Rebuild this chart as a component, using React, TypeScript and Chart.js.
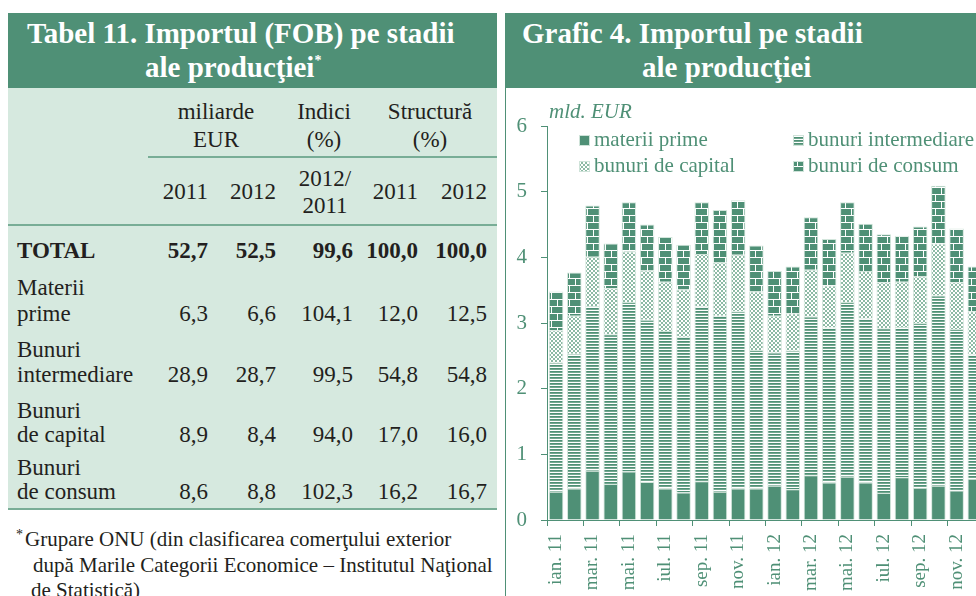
import React, { useEffect, useRef } from "react";
import { Chart, registerables } from "chart.js";

Chart.register(...registerables);

// ---------- DATA ----------
const months = [
  "ian. 11", "feb. 11", "mar. 11", "apr. 11", "mai. 11", "iun. 11",
  "iul. 11", "aug. 11", "sep. 11", "oct. 11", "nov. 11", "dec. 11",
  "ian. 12", "feb. 12", "mar. 12", "apr. 12", "mai. 12", "iun. 12",
  "iul. 12", "aug. 12", "sep. 12", "oct. 12", "nov. 12", "dec. 12",
];
const materiiPrime = [0.43, 0.48, 0.75, 0.55, 0.74, 0.58, 0.48, 0.42, 0.59, 0.43, 0.48, 0.48,
  0.52, 0.47, 0.68, 0.57, 0.66, 0.57, 0.41, 0.65, 0.49, 0.52, 0.45, 0.63];
const bunuriIntermediare = [1.97, 2.05, 2.51, 2.28, 2.58, 2.47, 2.40, 2.37, 2.66, 2.68, 2.70, 2.11,
  2.03, 2.11, 2.42, 2.36, 2.66, 2.50, 2.51, 2.29, 2.51, 2.90, 2.46, 1.89];
const bunuriCapital = [0.49, 0.58, 0.75, 0.70, 0.77, 0.75, 0.75, 0.72, 0.80, 0.81, 0.86, 0.89,
  0.56, 0.57, 0.71, 0.64, 0.75, 0.72, 0.70, 0.69, 0.71, 0.79, 0.71, 0.66];
const bunuriConsum = [0.59, 0.66, 0.78, 0.68, 0.75, 0.70, 0.68, 0.68, 0.79, 0.80, 0.83, 0.70,
  0.68, 0.71, 0.80, 0.71, 0.77, 0.72, 0.73, 0.70, 0.76, 0.88, 0.82, 0.68];
const seriesLabels = ["materii prime", "bunuri intermediare", "bunuri de capital", "bunuri de consum"];
const yTicks = [0, 1, 2, 3, 4, 5, 6];

const tableRowLabels = [["TOTAL"], ["Materii", "prime"], ["Bunuri", "intermediare"], ["Bunuri", "de capital"], ["Bunuri", "de consum"]];
const val2011 = ["52,7", "6,3", "28,9", "8,9", "8,6"];
const val2012 = ["52,5", "6,6", "28,7", "8,4", "8,8"];
const indici = ["99,6", "104,1", "99,5", "94,0", "102,3"];
const struct2011 = ["100,0", "12,0", "54,8", "17,0", "16,2"];
const struct2012 = ["100,0", "12,5", "54,8", "16,0", "16,7"];

// ---------- STYLE ----------
const GREEN = "#4f9076";
const MINT = "#d6e9df";
const LINE = "#78ad96";
const INK = "#231f20";
const SERIF = "'Liberation Serif', 'Times New Roman', serif";

function makePattern(w: number, h: number, draw: (g: CanvasRenderingContext2D) => void) {
  const c = document.createElement("canvas");
  c.width = w;
  c.height = h;
  const g = c.getContext("2d")!;
  draw(g);
  return g.createPattern(c, "repeat")!;
}

function Txt(props: any) {
  const { x, b, size = 23, align = "left", bold, italic, color = INK, children } = props;
  const style: any = {
    position: "absolute",
    top: b - 0.8375 * size,
    fontSize: size,
    lineHeight: size + "px",
    fontWeight: bold ? "bold" : "normal",
    fontStyle: italic ? "italic" : "normal",
    color,
    whiteSpace: "nowrap",
    fontFamily: SERIF,
  };
  if (align === "left") style.left = x;
  else if (align === "right") style.right = 976 - x;
  else {
    style.left = x;
    style.transform = "translateX(-50%)";
  }
  return <div style={style}>{children}</div>;
}

const CX = 506;
const CY = 89;

export default function App() {
  const ref = useRef<HTMLCanvasElement>(null);

  useEffect(() => {
    const solid = GREEN;
    const stripes = makePattern(4, 3, (g) => {
      g.fillStyle = "#ffffff";
      g.fillRect(0, 0, 4, 3);
      g.fillStyle = GREEN;
      g.fillRect(0, 0, 4, 1);
      g.fillStyle = "#72a78f";
      g.fillRect(0, 1, 4, 1);
    });
    const dots = makePattern(4, 4, (g) => {
      g.fillStyle = "#ffffff";
      g.fillRect(0, 0, 4, 4);
      g.fillStyle = "#8dbaa5";
      [[1, 0], [2, 0], [0, 1], [3, 1], [0, 2], [3, 2], [1, 3], [2, 3]].forEach(([px, py]) => g.fillRect(px, py, 1, 1));
    });
    const bricks = makePattern(12, 14, (g) => {
      g.fillStyle = GREEN;
      g.fillRect(0, 0, 12, 14);
      g.fillStyle = "#ffffff";
      g.fillRect(0, 0, 12, 1);
      g.fillRect(0, 7, 12, 1);
      g.fillRect(3, 1, 1, 6);
      g.fillRect(9, 8, 1, 6);
    });
    const fills = [solid, stripes, dots, bricks];
    const values = [materiiPrime, bunuriIntermediare, bunuriCapital, bunuriConsum];

    const overlay = {
      id: "overlay",
      afterDraw(chart: any) {
        const ctx = chart.ctx;
        ctx.save();
        ctx.fillStyle = GREEN;
        ctx.textBaseline = "alphabetic";
        ctx.font = `italic 21px ${SERIF}`;
        ctx.fillText("mld. EUR", 549 - CX, 118 - CY);
        const pos = [
          [579, 135], [793, 135], [579, 161], [793, 161],
        ];
        ctx.font = `21px ${SERIF}`;
        chart.data.datasets.forEach((ds: any, i: number) => {
          const [lx, ly] = pos[i];
          const bx = lx - CX;
          const by = ly - CY;
          ctx.fillStyle = ds.backgroundColor;
          ctx.fillRect(bx, by, 11, 11);
          ctx.strokeStyle = "#cfe3d9";
          ctx.lineWidth = 1;
          ctx.strokeRect(bx + 0.5, by + 0.5, 10, 10);
          ctx.fillStyle = GREEN;
          ctx.fillText(ds.label, bx + 15, by + 11);
        });
        ctx.restore();
      },
    };

    const chart = new Chart(ref.current!, {
      type: "bar",
      data: {
        labels: months,
        datasets: values.map((v, i) => ({
          label: seriesLabels[i],
          data: v,
          backgroundColor: fills[i] as any,
          borderColor: "#d3e6dc",
          borderWidth: 1,
          barPercentage: 0.8,
          categoryPercentage: 1,
        })),
      },
      options: {
        animation: false,
        responsive: false,
        devicePixelRatio: 1,
        layout: { padding: { left: 0, top: 37, right: 19, bottom: 0 } },
        plugins: { legend: { display: false }, tooltip: { enabled: false } },
        scales: {
          x: {
            stacked: true,
            afterFit: (s: any) => { s.height = 89; },
            grid: {
              offset: true,
              drawOnChartArea: false,
              tickLength: 6,
              tickColor: (c: any) => (c.index % 2 === 0 ? GREEN : "rgba(0,0,0,0)"),
            },
            border: { color: GREEN, width: 1 },
            ticks: {
              autoSkip: false,
              minRotation: 90,
              maxRotation: 90,
              padding: 8,
              color: GREEN,
              font: { family: SERIF, size: 19 },
              callback: (_v: any, i: number) => (i % 2 === 0 ? months[i] : ""),
            },
          },
          y: {
            stacked: true,
            min: 0,
            max: 6,
            afterFit: (s: any) => { s.width = 41; },
            afterBuildTicks: (s: any) => { s.ticks = yTicks.map((v) => ({ value: v })); },
            grid: { drawOnChartArea: false, tickLength: 6, color: GREEN },
            border: { color: GREEN, width: 1 },
            ticks: {
              padding: 14,
              color: GREEN,
              font: { family: SERIF, size: 21 },
            },
          },
        },
      },
      plugins: [overlay],
    });
    return () => chart.destroy();
  }, []);

  const rowBase = [[258], [295, 321], [357, 382], [418, 442], [475, 499]];
  const cols = [
    { x: 208, v: val2011 },
    { x: 276, v: val2012 },
    { x: 353, v: indici },
    { x: 418, v: struct2011 },
    { x: 487, v: struct2012 },
  ];

  return (
    <div style={{ position: "fixed", left: 0, top: 0, width: 976, height: 596, overflow: "hidden", background: "#fff", fontFamily: SERIF }}>
      {/* Left panel */}
      <div style={{ position: "absolute", left: 8, top: 13, width: 489, height: 75, background: GREEN }} />
      <div style={{ position: "absolute", left: 8, top: 88, width: 489, height: 421, background: MINT }} />
      <div style={{ position: "absolute", left: 148, top: 156, width: 349, height: 2, background: LINE }} />
      <div style={{ position: "absolute", left: 8, top: 224, width: 489, height: 2, background: LINE }} />
      <div style={{ position: "absolute", left: 8, top: 508, width: 489, height: 2, background: LINE }} />

      <Txt x={27} b={43} size={29} bold color="#fff">Tabel 11. Importul (FOB) pe stadii</Txt>
      <Txt x={145} b={77} size={29} bold color="#fff">
        ale producţiei<span style={{ fontSize: 14, position: "relative", top: -12 }}>*</span>
      </Txt>

      <Txt x={216} b={119} align="center">miliarde</Txt>
      <Txt x={216} b={147} align="center">EUR</Txt>
      <Txt x={324} b={119} align="center">Indici</Txt>
      <Txt x={324} b={147} align="center">(%)</Txt>
      <Txt x={430} b={119} align="center">Structură</Txt>
      <Txt x={430} b={147} align="center">(%)</Txt>

      <Txt x={208} b={199} align="right">2011</Txt>
      <Txt x={276} b={199} align="right">2012</Txt>
      <Txt x={325} b={186} align="center">2012/</Txt>
      <Txt x={325} b={213} align="center">2011</Txt>
      <Txt x={418} b={199} align="right">2011</Txt>
      <Txt x={487} b={199} align="right">2012</Txt>

      {tableRowLabels.map((lines, r) => (
        <React.Fragment key={r}>
          {lines.map((t, k) => (
            <Txt key={k} x={17} b={rowBase[r][k]} bold={r === 0}>{t}</Txt>
          ))}
          {cols.map((c, k) => (
            <Txt key={"v" + k} x={c.x} b={rowBase[r][rowBase[r].length - 1]} align="right" bold={r === 0}>{c.v[r]}</Txt>
          ))}
        </React.Fragment>
      ))}

      <Txt x={16} b={540} size={14}>*</Txt>
      <Txt x={25} b={547} size={21}>Grupare ONU (din clasificarea comerţului exterior</Txt>
      <Txt x={33} b={573} size={21}>după Marile Categorii Economice – Institutul Naţional</Txt>
      <Txt x={31} b={598} size={21}>de Statistică)</Txt>

      {/* Right panel */}
      <div style={{ position: "absolute", left: 505, top: 13, width: 600, height: 700, borderLeft: `1px solid ${GREEN}`, boxSizing: "border-box" }} />
      <div style={{ position: "absolute", left: 505, top: 13, width: 600, height: 75, background: GREEN }} />
      <Txt x={522} b={43} size={29} bold color="#fff">Grafic 4. Importul pe stadii</Txt>
      <Txt x={642} b={77} size={29} bold color="#fff">ale producţiei</Txt>

      <canvas ref={ref} width={500} height={520} style={{ position: "absolute", left: CX, top: CY, width: 500, height: 520 }} />
    </div>
  );
}
